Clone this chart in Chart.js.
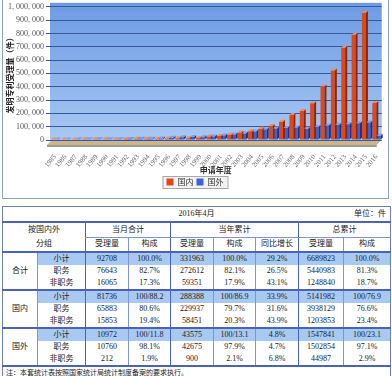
<!DOCTYPE html>
<html>
<head>
<meta charset="utf-8">
<script src="https://cdn.jsdelivr.net/npm/chart.js@4.4.1/dist/chart.umd.min.js"></script>
<style>
  body { margin: 0; background: #fff; width: 392px; height: 376px; overflow: hidden; position: relative;
         font-family: "Liberation Serif", "Noto Sans CJK SC", serif; color: #222; }
  #frame { position: absolute; left: 2px; top: 0; width: 385px; height: 198px;
           border: 1px solid #8da2b7; border-top: none; background: #fff; }
  #frame canvas { display: block; }
  #tbl { position: absolute; left: 2px; top: 206px; width: 388px; border-collapse: collapse;
         table-layout: fixed; font-size: 8px; border: 1px solid #6a84a6; }
  #tbl td { padding: 0; text-align: center; white-space: nowrap; line-height: 10px; }
  #tbl tr.t td { height: 14px; border-bottom: 2px solid #4a63b8; }
  #tbl tr.h td { height: 12px; }
  #tbl tr.d td { height: 12px; }
  #tbl tr.f td { height: 11px; text-align: left; font-size: 7px; border-top: 2px solid #4a63b8; padding-left: 3px; }
  #tbl .sub { background: #a8c9f1; border-top: 2px solid #4a63b8; }
  #tbl .vb { border-left: 1.5px solid #4a63b8; }
  #tbl .vt { border-left: 1px solid #7e97d4; }
  #tbl .hb { border-bottom: 1px solid #7e97d4; }
</style>
</head>
<body>
<div id="frame"><canvas id="myBarChart" width="385" height="198"></canvas></div>
<table id="tbl"></table>
<script>
// chart data: invention patent applications by filing year
const years = ['1985','1986','1987','1988','1989','1990','1991','1992','1993','1994','1995','1996','1997','1998','1999','2000',
  '2001','2002','2003','2004','2005','2006','2007','2008','2009','2010','2011','2012','2013','2014','2015','2016'];
const domestic = [4000,3500,4100,4800,5100,5800,6300,7500,9000,9700,10000,11500,12700,13700,15600,25600,
  30000,39800,56800,65800,84000,106000,137000,187000,218000,276000,401000,522000,692000,791000,956000,277000];
const foreign = [4500,4500,4700,5000,4700,4900,5100,6900,8500,9300,11600,17000,21000,22200,21100,26200,
  33200,40400,48500,64300,78000,86000,91000,94000,85000,97000,108000,115000,119000,125000,132000,32000];
const yTicks = [0,100000,200000,300000,400000,500000,600000,700000,800000,900000,1000000];

// table data (2016年4月)
const groupNames = ['合计','国内','国外'];
const rowNames = ['小计','职务','非职务'];
const monthCount = [92708,76643,16065,81736,65883,15853,10972,10760,212];
const monthShare = ['100.0%','82.7%','17.3%','100/88.2','80.6%','19.4%','100/11.8','98.1%','1.9%'];
const yearCount = [331963,272612,59351,288388,229937,58451,43575,42675,900];
const yearShare = ['100.0%','82.1%','17.9%','100/86.9','79.7%','20.3%','100/13.1','97.9%','2.1%'];
const yearGrowth = ['29.2%','26.5%','43.1%','33.9%','31.6%','43.9%','4.8%','4.7%','6.8%'];
const totalCount = [6689823,5440983,1248840,5141982,3938129,1203853,1547841,1502854,44987];
const totalShare = ['100.0%','81.3%','18.7%','100/76.9','76.6%','23.4%','100/23.1','97.1%','2.9%'];

// ---- table ----
let html = '<colgroup><col style="width:35px"><col style="width:48px"><col style="width:43px"><col style="width:42px">' +
  '<col style="width:43px"><col style="width:42px"><col style="width:43px"><col style="width:45px"><col style="width:47px"></colgroup>';
html += '<tr class="t"><td colspan="9" style="position:relative">2016年4月' +
  '<span style="position:absolute;right:4px;top:2px">单位：件</span></td></tr>';
html += '<tr class="h"><td colspan="2" rowspan="2" style="line-height:14px">按国内外<br>分组</td>' +
  '<td colspan="2" class="vb hb">当月合计</td><td colspan="3" class="vb hb">当年累计</td><td colspan="2" class="vb hb">总累计</td></tr>';
html += '<tr class="h"><td class="vb">受理量</td><td class="vt">构成</td><td class="vb">受理量</td><td class="vt">构成</td>' +
  '<td class="vt">同比增长</td><td class="vb">受理量</td><td class="vt">构成</td></tr>';
for (let i = 0; i < 9; i++) {
  const g = Math.floor(i / 3), r = i % 3;
  const s = r === 0 ? ' sub' : '';
  html += '<tr class="d">';
  if (r === 0) html += '<td rowspan="3" style="border-top:2px solid #4a63b8">' + groupNames[g] + '</td>';
  html += '<td class="vt' + s + '">' + rowNames[r] + '</td>';
  html += '<td class="vb' + s + '">' + monthCount[i] + '</td><td class="vt' + s + '">' + monthShare[i] + '</td>';
  html += '<td class="vb' + s + '">' + yearCount[i] + '</td><td class="vt' + s + '">' + yearShare[i] + '</td>';
  html += '<td class="vt' + s + '">' + yearGrowth[i] + '</td>';
  html += '<td class="vb' + s + '">' + totalCount[i] + '</td><td class="vt' + s + '">' + totalShare[i] + '</td>';
  html += '</tr>';
}
html += '<tr class="f"><td colspan="9">注：本套统计表按照国家统计局统计制度备案的要求执行。</td></tr>';
document.getElementById('tbl').innerHTML = html;

// ---- chart ----
// blue gradient plot background, tan 3D floor and a framed legend
const decor = {
  id: 'decor',
  beforeDraw(chart) {
    const {ctx, chartArea: a} = chart;
    ctx.save();
    const g = ctx.createLinearGradient(0, a.top, 0, a.bottom);
    g.addColorStop(0, '#6e9ce4');
    g.addColorStop(1, '#a9c8f2');
    ctx.fillStyle = g;
    ctx.fillRect(a.left, a.top - 4, a.right - a.left, a.bottom - a.top + 4);
    // floor
    ctx.fillStyle = '#cdb68c';
    ctx.beginPath();
    ctx.moveTo(a.left - 3, a.bottom + 5);
    ctx.lineTo(a.right - 5, a.bottom + 5);
    ctx.lineTo(a.right, a.bottom);
    ctx.lineTo(a.left + 2, a.bottom);
    ctx.closePath();
    ctx.fill();
    ctx.fillStyle = '#9d9a94';
    ctx.fillRect(a.left - 3, a.bottom + 5, a.right - a.left - 2, 2);
    // legend box
    const hb = chart.legend.legendHitBoxes;
    if (hb && hb.length) {
      const x0 = Math.min(...hb.map(b => b.left)) - 4;
      const x1 = Math.max(...hb.map(b => b.left + b.width)) + 4;
      const y0 = Math.min(...hb.map(b => b.top)) - 2;
      const y1 = Math.max(...hb.map(b => b.top + b.height)) + 2;
      ctx.fillStyle = '#f3f3f3';
      ctx.fillRect(x0, y0, x1 - x0, y1 - y0);
      ctx.strokeStyle = '#a8a8a8';
      ctx.lineWidth = 1;
      ctx.strokeRect(x0 + 0.5, y0 + 0.5, x1 - x0, y1 - y0);
    }
    ctx.restore();
  },
  afterDatasetsDraw(chart) {
    // side and top faces to give the bars some depth
    const ctx = chart.ctx;
    ctx.save();
    chart.data.datasets.forEach((ds, di) => {
      const side = di === 0 ? '#8f2408' : '#1c318a';
      const top = di === 0 ? '#f28a5c' : '#7f9cf0';
      chart.getDatasetMeta(di).data.forEach(bar => {
        const r = bar.x + bar.width / 2, l = bar.x - bar.width / 2;
        const d = 2;
        ctx.fillStyle = side;
        ctx.beginPath();
        ctx.moveTo(r, bar.y); ctx.lineTo(r + d, bar.y - d); ctx.lineTo(r + d, bar.base - d); ctx.lineTo(r, bar.base);
        ctx.closePath(); ctx.fill();
        ctx.fillStyle = top;
        ctx.beginPath();
        ctx.moveTo(l, bar.y); ctx.lineTo(l + d, bar.y - d); ctx.lineTo(r + d, bar.y - d); ctx.lineTo(r, bar.y);
        ctx.closePath(); ctx.fill();
      });
    });
    ctx.restore();
  }
};

const barData = {
  labels: years,
  datasets: [
    { label: '国内', data: domestic, backgroundColor: '#dc4a1c', borderColor: '#b5360f', borderWidth: 0,
      categoryPercentage: 0.85, barPercentage: 0.9 },
    { label: '国外', data: foreign, backgroundColor: '#3b63d8', borderColor: '#2440a8', borderWidth: 0,
      categoryPercentage: 0.85, barPercentage: 0.9 }
  ]
};

const barConfig = {
  type: 'bar',
  data: barData,
  plugins: [decor],
  options: {
    responsive: false,
    animation: false,
    layout: { padding: { left: 2, right: 3, top: 5, bottom: 2 } },
    plugins: {
      legend: {
        position: 'bottom',
        labels: { boxWidth: 7, boxHeight: 7, padding: 3, font: { size: 8, family: 'Noto Sans CJK SC' }, color: '#333' }
      },
      tooltip: { enabled: false }
    },
    scales: {
      x: {
        grid: { display: false },
        border: { display: false },
        ticks: { font: { size: 7, family: 'Liberation Serif' }, color: '#666', minRotation: 50, maxRotation: 50,
          autoSkip: false, padding: 5 },
        title: { display: true, text: '申请年度', font: { size: 8, weight: 'bold', family: 'Noto Sans CJK SC' },
          color: '#333', padding: { top: 0, bottom: 0 } },
        afterFit(scale) { scale.height = 35; }
      },
      y: {
        min: 0, max: 1000000,
        afterBuildTicks(scale) { scale.ticks = yTicks.map(v => ({ value: v })); },
        grid: { color: '#37589a', lineWidth: 1, tickLength: 4, drawTicks: true },
        border: { display: false },
        ticks: { font: { size: 8, family: 'Liberation Serif' }, color: '#555', padding: 2, autoSkip: false,
          callback: v => v.toLocaleString('en-US').replace(/,/g, ', ') },
        title: { display: true, text: '发明专利受理量（件）', font: { size: 8, weight: 'bold', family: 'Noto Sans CJK SC' },
          color: '#222', padding: 0 },
        afterFit(scale) { scale.width = 45; }
      }
    }
  }
};

const myBarChart = new Chart(document.getElementById('myBarChart'), barConfig);
</script>
</body>
</html>
